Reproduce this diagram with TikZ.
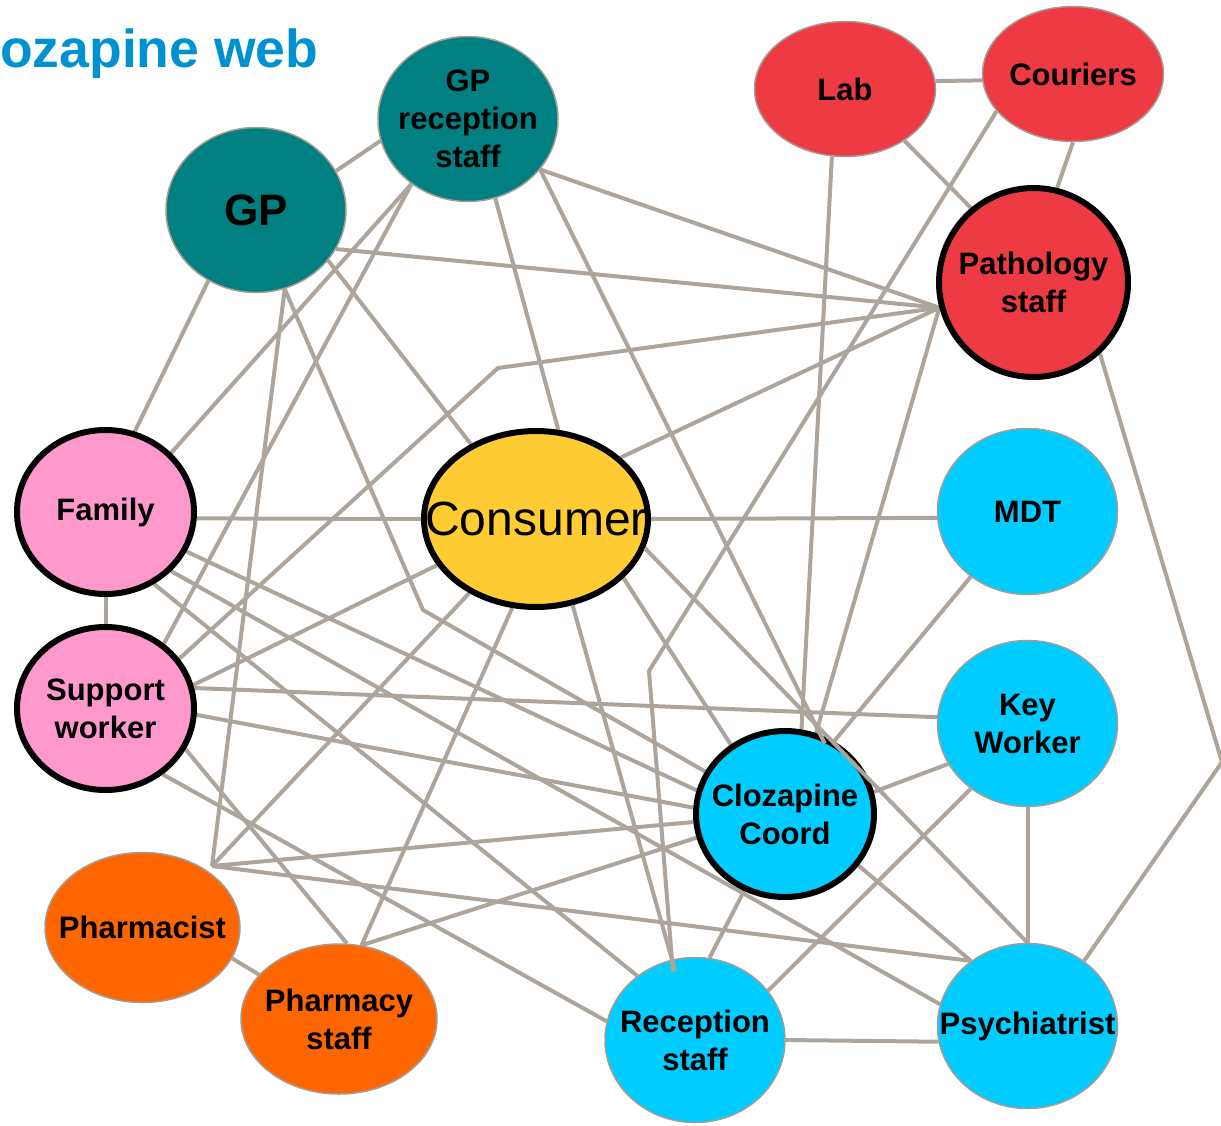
\documentclass[tikz,border=0pt]{standalone}
\usepackage{fontspec}
\setmainfont{Liberation Sans}
\usepackage{xcolor}
\usepackage{tikz}
\usetikzlibrary{shapes.geometric,backgrounds}
\definecolor{titleblue}{RGB}{0,146,208}
\definecolor{gpteal}{RGB}{0,128,128}
\definecolor{labred}{RGB}{238,58,67}
\definecolor{carepink}{RGB}{255,153,204}
\definecolor{consyellow}{RGB}{255,204,51}
\definecolor{teamcyan}{RGB}{0,204,255}
\definecolor{pharmorange}{RGB}{255,102,0}
\definecolor{rimgray}{RGB}{165,157,148}
\definecolor{linkgray}{RGB}{173,164,155}

\begin{document}
\begin{tikzpicture}[
  x=1pt, y=-1pt,
  party/.style={ellipse, draw=rimgray, line width=1.5pt, inner sep=0pt},
  core/.style={draw=black, line width=6pt},
  lbl/.style={font=\fontsize{31}{38}\selectfont\bfseries, align=center, inner sep=0pt},
  link/.style={draw=linkgray, line width=4pt},
]
\useasboundingbox (0,0) rectangle (1221,1125);

\node[anchor=base west, inner sep=0pt, text=titleblue, font=\fontsize{53.5}{60}\selectfont\bfseries] (title) at (0,67) {ozapine web};

% people around the consumer
\node[party, fill=gpteal, minimum width=180, minimum height=165, label={[lbl, font=\fontsize{44}{50}\selectfont\bfseries]center:GP}] (gp) at (256,210) {};
\node[party, fill=gpteal, minimum width=180, minimum height=165, label={[lbl]center:GP\\reception\\staff}] (gprec) at (468,119) {};
\node[party, fill=labred, minimum width=181, minimum height=135, label={[lbl]center:Lab}] (lab) at (845,89) {};
\node[party, fill=labred, minimum width=181, minimum height=135, label={[lbl]center:Couriers}] (cour) at (1073,74) {};
\node[party, core, fill=labred, minimum width=189, minimum height=189, label={[lbl]center:Pathology\\staff}] (path) at (1033.5,282.5) {};
\node[party, core, fill=carepink, minimum width=177, minimum height=164, label={[lbl]center:Family}] (fam) at (105.5,512) {};
\node[party, core, fill=carepink, minimum width=177, minimum height=163, label={[lbl]center:Support\\worker}] (sup) at (105.5,708.5) {};
\node[party, core, fill=consyellow, minimum width=224, minimum height=176, label={[lbl, font=\fontsize{48}{56}\selectfont]center:Consumer}] (cons) at (536,519) {};
\node[party, fill=teamcyan, minimum width=180, minimum height=166, label={[lbl]center:MDT}] (mdt) at (1027.5,511.5) {};
\node[party, fill=teamcyan, minimum width=180, minimum height=166, label={[lbl]center:Key\\Worker}] (key) at (1027.5,723.5) {};
\node[party, core, fill=teamcyan, minimum width=178, minimum height=166, label={[lbl]center:Clozapine\\Coord}] (clz) at (785,814) {};
\node[party, fill=teamcyan, minimum width=180, minimum height=165, label={[lbl]center:Reception\\staff}] (rec) at (695,1040) {};
\node[party, fill=teamcyan, minimum width=180, minimum height=165, label={[lbl]center:Psychiatrist}] (psy) at (1027.5,1026) {};
\node[party, fill=pharmorange, minimum width=195, minimum height=150, label={[lbl]center:Pharmacist}] (phm) at (142.5,927.5) {};
\node[party, fill=pharmorange, minimum width=196, minimum height=150, label={[lbl]center:Pharmacy\\staff}] (phs) at (339,1019) {};

% bends and the pharmacist's joining point
\coordinate (phmtip) at (212,866);
\coordinate (gpbend) at (423,610);
\coordinate (pathbend) at (498,368);
\coordinate (courbend) at (649,671);
\coordinate (psybend) at (1222,762);

\begin{scope}[on background layer]
\draw[link] (gp.26) -- (gprec.-166);
\draw[link] (lab.5) -- (cour.184);
\draw[link] (lab.-41) -- (path.130);
\draw[link] (cour.-90) -- (path.76);
\draw[link] (gp.-26) -- (path.-165);
\draw[link] (gprec.-35) -- (path.-165);
\draw[link] (gp.-124) -- (fam.70);
\draw[link] (gp.-70) -- (phmtip);
\draw[link] (gp.-70) -- (gpbend) -- (clz.152);
\draw[link] (gp.-35) -- (cons.131);
\draw[link] (gprec.-131) -- (fam.42);
\draw[link] (gprec.-131) -- (sup.48);
\draw[link] (gprec.-71) -- (cons.76);
\draw[link] (path.-165) -- (pathbend) -- (sup.34);
\draw[link] (cons.36) -- (path.-165);
\draw[link] (path.-165) -- (clz.69);
\draw[link] (lab.-101) -- (clz.79);
\draw[link] (path.-47) -- (psybend) -- (psy.49);
\draw[link] (cons.0) -- (mdt.184);
\draw[link] (mdt.-131) -- (clz.56);
\draw[link] (sup.13) -- (key.176);
\draw[link] (key.-153) -- (clz.14);
\draw[link] (key.-90) -- (psy.90);
\draw[link] (key.-131) -- (rec.34);
\draw[link] (rec.0) -- (psy.190);
\draw[link] (fam.-4) -- (cons.180);
\draw[link] (fam.-90) -- (sup.90);
\draw[link] (fam.-26) -- (clz.165);
\draw[link] (fam.-42) -- (psy.166);
\draw[link] (fam.-56) -- (rec.132);
\draw[link] (cons.-155) -- (sup.15);
\draw[link] (cons.-132) -- (phmtip);
\draw[link] (cons.-105) -- (phs.73);
\draw[link] (cons.-34) -- (clz.128);
\draw[link] (sup.-4) -- (clz.176);
\draw[link] (sup.-27) -- (phs.84);
\draw[link] (sup.-49) -- (rec.168);
\draw[link] (phmtip) -- (clz.185);
\draw[link] (phmtip) -- (psy.131);
\draw[link] (phs.73) -- (clz.195);
\draw[link] (clz.-118) -- (rec.80);
\draw[link] (clz.-35) -- (psy.131);
\draw[link] (phm.-19) -- (phs.151);
\end{scope}

% these run over the edge of a node
\draw[link, shorten >=-10pt] (gprec.-35) -- (clz.66);
\draw[link] (cons.-15) -- (psy.90);
\draw[link, shorten >=-12pt] (cour.-154) -- (courbend) -- (rec.106);
\draw[link, shorten >=-12pt] (cons.-67) -- (rec.106);
\end{tikzpicture}
\end{document}
